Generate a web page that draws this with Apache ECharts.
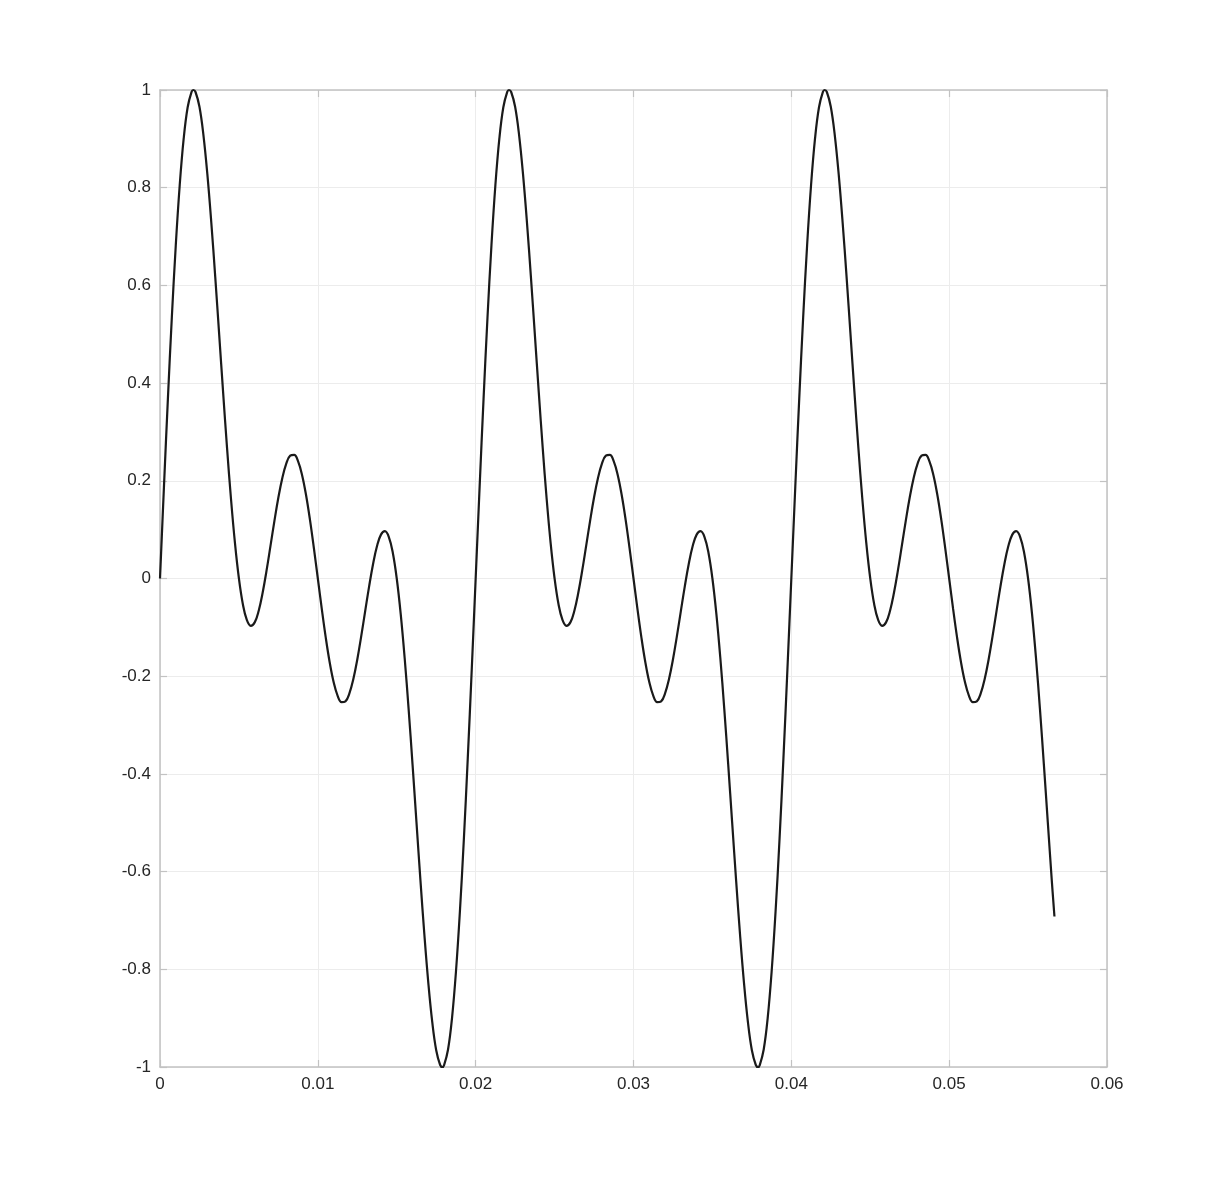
<!DOCTYPE html>
<html>
<head>
<meta charset="utf-8">
<style>
html,body{margin:0;padding:0;background:#fff;}
#chart{width:1224px;height:1200px;}
</style>
<script src="https://cdn.jsdelivr.net/npm/echarts@6/dist/echarts.min.js"></script>
</head>
<body>
<div id="chart"></div>
<script>
// Sample times (s)
const sampleTimes = [
0, 0.00025, 0.0005, 0.00075, 0.001, 0.00125, 0.0015, 0.00175, 0.002, 0.00211, 0.00225, 0.0025, 0.00275, 0.003, 0.00325, 0.0035, 0.00375, 0.004, 0.00425, 0.0045, 0.00475,
0.005, 0.00525, 0.0055, 0.00575, 0.006, 0.00625, 0.0065, 0.00675, 0.007, 0.00725, 0.0075, 0.00775, 0.008, 0.00825, 0.0085, 0.00875, 0.009, 0.00925, 0.0095, 0.00975,
0.01, 0.01025, 0.0105, 0.01075, 0.011, 0.01125, 0.0115, 0.01175, 0.012, 0.01225, 0.0125, 0.01275, 0.013, 0.01325, 0.0135, 0.01375, 0.014, 0.01425, 0.0145, 0.01475,
0.015, 0.01525, 0.0155, 0.01575, 0.016, 0.01625, 0.0165, 0.01675, 0.017, 0.01725, 0.0175, 0.01775, 0.01789, 0.018, 0.01825, 0.0185, 0.01875, 0.019, 0.01925, 0.0195, 0.01975,
0.02, 0.02025, 0.0205, 0.02075, 0.021, 0.02125, 0.0215, 0.02175, 0.022, 0.02211, 0.02225, 0.0225, 0.02275, 0.023, 0.02325, 0.0235, 0.02375, 0.024, 0.02425, 0.0245, 0.02475,
0.025, 0.02525, 0.0255, 0.02575, 0.026, 0.02625, 0.0265, 0.02675, 0.027, 0.02725, 0.0275, 0.02775, 0.028, 0.02825, 0.0285, 0.02875, 0.029, 0.02925, 0.0295, 0.02975,
0.03, 0.03025, 0.0305, 0.03075, 0.031, 0.03125, 0.0315, 0.03175, 0.032, 0.03225, 0.0325, 0.03275, 0.033, 0.03325, 0.0335, 0.03375, 0.034, 0.03425, 0.0345, 0.03475,
0.035, 0.03525, 0.0355, 0.03575, 0.036, 0.03625, 0.0365, 0.03675, 0.037, 0.03725, 0.0375, 0.03775, 0.03789, 0.038, 0.03825, 0.0385, 0.03875, 0.039, 0.03925, 0.0395, 0.03975,
0.04, 0.04025, 0.0405, 0.04075, 0.041, 0.04125, 0.0415, 0.04175, 0.042, 0.04211, 0.04225, 0.0425, 0.04275, 0.043, 0.04325, 0.0435, 0.04375, 0.044, 0.04425, 0.0445, 0.04475,
0.045, 0.04525, 0.0455, 0.04575, 0.046, 0.04625, 0.0465, 0.04675, 0.047, 0.04725, 0.0475, 0.04775, 0.048, 0.04825, 0.0485, 0.04875, 0.049, 0.04925, 0.0495, 0.04975,
0.05, 0.05025, 0.0505, 0.05075, 0.051, 0.05125, 0.0515, 0.05175, 0.052, 0.05225, 0.0525, 0.05275, 0.053, 0.05325, 0.0535, 0.05375, 0.054, 0.05425, 0.0545, 0.05475,
0.055, 0.05525, 0.0555, 0.05575, 0.056, 0.05625, 0.0565, 0.05667
];

// Signal amplitude at each sample time
const signalValues = [
0, 0.1873, 0.3678, 0.5347, 0.6823, 0.8055, 0.9003, 0.9642, 0.9960, 1, 0.9959, 0.9657, 0.9082, 0.8276, 0.7288, 0.6174, 0.4993, 0.3804, 0.2664, 0.1623, 0.0724,
0, -0.0528, -0.0849, -0.0968, -0.0898, -0.0664, -0.0298, 0.0160, 0.0668, 0.1181, 0.1657, 0.2057, 0.2351, 0.2514, 0.2531, 0.2398, 0.2121, 0.1715, 0.1206, 0.0622,
0, -0.0622, -0.1206, -0.1715, -0.2121, -0.2398, -0.2531, -0.2514, -0.2351, -0.2057, -0.1657, -0.1181, -0.0668, -0.0160, 0.0298, 0.0664, 0.0898, 0.0968, 0.0849, 0.0528,
0, -0.0724, -0.1623, -0.2664, -0.3804, -0.4993, -0.6174, -0.7288, -0.8276, -0.9082, -0.9657, -0.9959, -1, -0.9960, -0.9642, -0.9003, -0.8055, -0.6823, -0.5347, -0.3678, -0.1873,
0, 0.1873, 0.3678, 0.5347, 0.6823, 0.8055, 0.9003, 0.9642, 0.9960, 1, 0.9959, 0.9657, 0.9082, 0.8276, 0.7288, 0.6174, 0.4993, 0.3804, 0.2664, 0.1623, 0.0724,
0, -0.0528, -0.0849, -0.0968, -0.0898, -0.0664, -0.0298, 0.0160, 0.0668, 0.1181, 0.1657, 0.2057, 0.2351, 0.2514, 0.2531, 0.2398, 0.2121, 0.1715, 0.1206, 0.0622,
0, -0.0622, -0.1206, -0.1715, -0.2121, -0.2398, -0.2531, -0.2514, -0.2351, -0.2057, -0.1657, -0.1181, -0.0668, -0.0160, 0.0298, 0.0664, 0.0898, 0.0968, 0.0849, 0.0528,
0, -0.0724, -0.1623, -0.2664, -0.3804, -0.4993, -0.6174, -0.7288, -0.8276, -0.9082, -0.9657, -0.9959, -1, -0.9960, -0.9642, -0.9003, -0.8055, -0.6823, -0.5347, -0.3678, -0.1873,
0, 0.1873, 0.3678, 0.5347, 0.6823, 0.8055, 0.9003, 0.9642, 0.9960, 1, 0.9959, 0.9657, 0.9082, 0.8276, 0.7288, 0.6174, 0.4993, 0.3804, 0.2664, 0.1623, 0.0724,
0, -0.0528, -0.0849, -0.0968, -0.0898, -0.0664, -0.0298, 0.0160, 0.0668, 0.1181, 0.1657, 0.2057, 0.2351, 0.2514, 0.2531, 0.2398, 0.2121, 0.1715, 0.1206, 0.0622,
0, -0.0622, -0.1206, -0.1715, -0.2121, -0.2398, -0.2531, -0.2514, -0.2351, -0.2057, -0.1657, -0.1181, -0.0668, -0.0160, 0.0298, 0.0664, 0.0898, 0.0968, 0.0849, 0.0528,
0, -0.0724, -0.1623, -0.2664, -0.3804, -0.4993, -0.6174, -0.692
];

// Axis ticks
const xTicks = [0, 0.01, 0.02, 0.03, 0.04, 0.05, 0.06];
const yTicks = [-1, -0.8, -0.6, -0.4, -0.2, 0, 0.2, 0.4, 0.6, 0.8, 1];

const AXIS_COLOR = '#c2c2c2';
const GRID_COLOR = '#ececec';
const TEXT_COLOR = '#262626';
const FONT = '"Liberation Sans", Arial, Helvetica, sans-serif';

const seriesData = sampleTimes.map((t, i) => [t, signalValues[i]]);

function fmt(v) { return String(+v.toFixed(4)); }

function makeAxis(ticks, position, showLabel, showGrid) {
  return {
    type: 'value',
    position: position,
    min: ticks[0],
    max: ticks[ticks.length - 1],
    interval: +(ticks[1] - ticks[0]).toFixed(4),
    axisLine: { show: true, onZero: false, lineStyle: { color: AXIS_COLOR, width: 1.5 } },
    axisTick: { show: true, inside: true, length: 7, lineStyle: { color: AXIS_COLOR, width: 1.2 } },
    axisLabel: {
      show: showLabel, color: TEXT_COLOR, fontSize: 17, fontFamily: FONT,
      margin: 9, formatter: fmt, showMinLabel: true, showMaxLabel: true
    },
    splitLine: { show: showGrid, lineStyle: { color: GRID_COLOR, width: 1 } }
  };
}

const chart = echarts.init(document.getElementById('chart'), null, { renderer: 'canvas' });
chart.setOption({
  animation: false,
  backgroundColor: '#ffffff',
  grid: { left: 160, right: 117, top: 90, bottom: 133, containLabel: false },
  xAxis: [
    makeAxis(xTicks, 'bottom', true, true),
    makeAxis(xTicks, 'top', false, false)
  ],
  yAxis: [
    makeAxis(yTicks, 'left', true, true),
    makeAxis(yTicks, 'right', false, false)
  ],
  series: [{
    type: 'line',
    xAxisIndex: 0,
    yAxisIndex: 0,
    data: seriesData,
    showSymbol: false,
    smooth: 0.4,
    clip: false,
    lineStyle: { color: '#1a1a1a', width: 2.2 }
  }]
});
</script>
</body>
</html>
